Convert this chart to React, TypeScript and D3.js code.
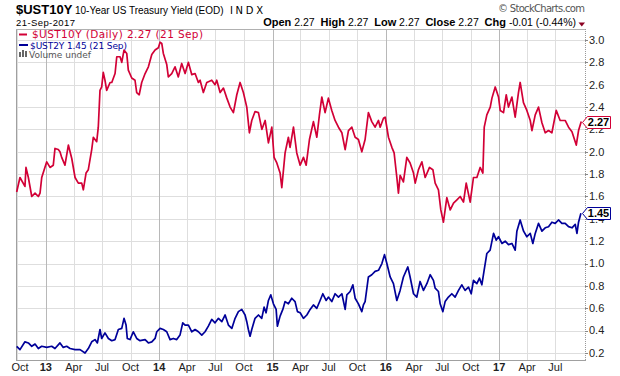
import React from 'react';
import * as d3 from 'd3';

// $UST10Y daily close (decimal-year time, yield %)
const tenYearTimes = [
  2012.743, 2012.772, 2012.816, 2012.825, 2012.846, 2012.876, 2012.905, 2012.934, 2012.949, 2012.964,
  2013.008, 2013.037, 2013.066, 2013.081, 2013.110, 2013.125, 2013.140, 2013.169, 2013.199, 2013.229,
  2013.258, 2013.287, 2013.317, 2013.331, 2013.355, 2013.375, 2013.405, 2013.419, 2013.449, 2013.463,
  2013.478, 2013.493, 2013.507, 2013.522, 2013.537, 2013.567, 2013.582, 2013.611, 2013.626, 2013.655,
  2013.670, 2013.690, 2013.714, 2013.728, 2013.758, 2013.787, 2013.802, 2013.824, 2013.846, 2013.876,
  2013.905, 2013.935, 2013.964, 2013.993, 2014.008, 2014.023, 2014.037, 2014.067, 2014.081, 2014.111,
  2014.140, 2014.169, 2014.199, 2014.229, 2014.258, 2014.288, 2014.317, 2014.346, 2014.361, 2014.390,
  2014.420, 2014.464, 2014.493, 2014.508, 2014.538, 2014.567, 2014.597, 2014.626, 2014.655, 2014.685,
  2014.714, 2014.743, 2014.773, 2014.796, 2014.817, 2014.846, 2014.876, 2014.906, 2014.935, 2014.964,
  2014.994, 2015.014, 2015.038, 2015.067, 2015.082, 2015.111, 2015.140, 2015.155, 2015.185, 2015.214,
  2015.244, 2015.273, 2015.297, 2015.326, 2015.361, 2015.391, 2015.414, 2015.435, 2015.464, 2015.493,
  2015.523, 2015.552, 2015.582, 2015.612, 2015.641, 2015.670, 2015.700, 2015.729, 2015.758, 2015.788,
  2015.817, 2015.846, 2015.876, 2015.905, 2015.935, 2015.950, 2015.979, 2015.994, 2016.023, 2016.053,
  2016.073, 2016.097, 2016.111, 2016.126, 2016.155, 2016.185, 2016.214, 2016.244, 2016.259, 2016.288,
  2016.318, 2016.347, 2016.385, 2016.415, 2016.435, 2016.464, 2016.485, 2016.508, 2016.538, 2016.568,
  2016.597, 2016.627, 2016.656, 2016.685, 2016.709, 2016.744, 2016.773, 2016.803, 2016.832, 2016.856,
  2016.868, 2016.891, 2016.921, 2016.936, 2016.965, 2016.994, 2017.009, 2017.038, 2017.062, 2017.082,
  2017.112, 2017.141, 2017.170, 2017.185, 2017.214, 2017.244, 2017.274, 2017.289, 2017.318, 2017.347,
  2017.377, 2017.406, 2017.435, 2017.465, 2017.503, 2017.538, 2017.582, 2017.612, 2017.642, 2017.680,
  2017.700, 2017.724,
];
const tenYearValues = [
  1.64, 1.77, 1.69, 1.86, 1.77, 1.60, 1.63, 1.60, 1.63, 1.77,
  1.91, 1.86, 1.88, 2.03, 2.02, 2.00, 1.95, 1.88, 2.06, 1.94,
  1.77, 1.72, 1.72, 1.66, 1.81, 1.84, 2.02, 2.13, 2.09, 2.22,
  2.55, 2.58, 2.71, 2.64, 2.55, 2.62, 2.62, 2.70, 2.85, 2.85,
  2.80, 2.91, 2.88, 2.73, 2.66, 2.64, 2.53, 2.51, 2.62, 2.70,
  2.76, 2.87, 2.91, 2.93, 2.98, 2.97, 2.88, 2.78, 2.67, 2.70,
  2.76, 2.67, 2.79, 2.70, 2.80, 2.69, 2.70, 2.62, 2.64, 2.53,
  2.62, 2.64, 2.60, 2.64, 2.53, 2.57, 2.48, 2.40, 2.35, 2.51,
  2.62, 2.53, 2.40, 2.17, 2.28, 2.36, 2.35, 2.20, 2.28, 2.08,
  2.22, 1.95, 1.90, 1.81, 1.68, 1.99, 2.13, 2.04, 2.22, 1.99,
  1.88, 1.95, 1.88, 2.11, 2.27, 2.13, 2.33, 2.49, 2.35, 2.48,
  2.37, 2.28, 2.22, 2.17, 2.02, 2.19, 2.22, 2.13, 2.11, 2.00,
  2.11, 2.35, 2.27, 2.22, 2.28, 2.22, 2.30, 2.31, 2.13, 2.04,
  1.99, 1.77, 1.63, 1.79, 1.73, 1.95, 1.90, 1.81, 1.72, 1.84,
  1.91, 1.77, 1.86, 1.84, 1.72, 1.66, 1.48, 1.37, 1.59, 1.48,
  1.54, 1.57, 1.60, 1.55, 1.72, 1.55, 1.77, 1.77, 1.86, 1.81,
  2.22, 2.33, 2.40, 2.48, 2.58, 2.49, 2.37, 2.35, 2.51, 2.40,
  2.49, 2.31, 2.53, 2.62, 2.44, 2.37, 2.28, 2.19, 2.33, 2.40,
  2.26, 2.17, 2.19, 2.17, 2.37, 2.28, 2.28, 2.22, 2.18, 2.06,
  2.19, 2.27,
];

// $UST2Y daily close
const twoYearTimes = [
  2012.743, 2012.772, 2012.816, 2012.846, 2012.876, 2012.905, 2012.934, 2012.964, 2013.008, 2013.052,
  2013.081, 2013.125, 2013.154, 2013.184, 2013.214, 2013.258, 2013.302, 2013.346, 2013.375, 2013.405,
  2013.434, 2013.455, 2013.478, 2013.493, 2013.522, 2013.552, 2013.582, 2013.611, 2013.640, 2013.670,
  2013.690, 2013.708, 2013.719, 2013.743, 2013.772, 2013.802, 2013.831, 2013.876, 2013.905, 2013.935,
  2013.964, 2013.979, 2014.008, 2014.037, 2014.067, 2014.096, 2014.125, 2014.155, 2014.184, 2014.208,
  2014.229, 2014.258, 2014.288, 2014.317, 2014.346, 2014.376, 2014.405, 2014.434, 2014.464, 2014.493,
  2014.523, 2014.553, 2014.582, 2014.611, 2014.641, 2014.670, 2014.699, 2014.729, 2014.758, 2014.773,
  2014.787, 2014.802, 2014.817, 2014.846, 2014.876, 2014.905, 2014.926, 2014.943, 2014.964, 2014.985,
  2015.008, 2015.032, 2015.043, 2015.067, 2015.091, 2015.111, 2015.140, 2015.170, 2015.199, 2015.220,
  2015.244, 2015.273, 2015.303, 2015.332, 2015.361, 2015.391, 2015.420, 2015.444, 2015.473, 2015.493,
  2015.523, 2015.552, 2015.582, 2015.612, 2015.641, 2015.656, 2015.685, 2015.709, 2015.729, 2015.758,
  2015.788, 2015.802, 2015.817, 2015.846, 2015.876, 2015.905, 2015.935, 2015.965, 2015.988, 2016.009,
  2016.038, 2016.067, 2016.097, 2016.126, 2016.155, 2016.194, 2016.214, 2016.244, 2016.273, 2016.302,
  2016.332, 2016.362, 2016.391, 2016.420, 2016.435, 2016.464, 2016.479, 2016.503, 2016.523, 2016.552,
  2016.582, 2016.611, 2016.641, 2016.670, 2016.699, 2016.729, 2016.753, 2016.773, 2016.803, 2016.826,
  2016.847, 2016.867, 2016.891, 2016.920, 2016.950, 2016.974, 2016.994, 2017.024, 2017.053, 2017.082,
  2017.112, 2017.141, 2017.156, 2017.185, 2017.215, 2017.244, 2017.274, 2017.297, 2017.318, 2017.347,
  2017.377, 2017.406, 2017.435, 2017.465, 2017.494, 2017.523, 2017.553, 2017.582, 2017.612, 2017.642,
  2017.671, 2017.686, 2017.700, 2017.721,
];
const twoYearValues = [
  0.26, 0.23, 0.30, 0.29, 0.26, 0.28, 0.24, 0.26, 0.25, 0.26,
  0.24, 0.29, 0.25, 0.26, 0.24, 0.23, 0.23, 0.20, 0.24, 0.30,
  0.32, 0.29, 0.41, 0.33, 0.38, 0.33, 0.31, 0.32, 0.41, 0.42,
  0.51, 0.45, 0.33, 0.32, 0.39, 0.33, 0.31, 0.32, 0.29, 0.30,
  0.33, 0.39, 0.42, 0.41, 0.39, 0.32, 0.33, 0.32, 0.36, 0.47,
  0.45, 0.45, 0.39, 0.41, 0.39, 0.36, 0.39, 0.44, 0.50, 0.47,
  0.51, 0.48, 0.54, 0.45, 0.42, 0.51, 0.57, 0.59, 0.54, 0.48,
  0.41, 0.35, 0.41, 0.51, 0.54, 0.51, 0.61, 0.56, 0.67, 0.72,
  0.64, 0.59, 0.44, 0.53, 0.59, 0.66, 0.64, 0.69, 0.66, 0.57,
  0.56, 0.51, 0.54, 0.59, 0.63, 0.60, 0.67, 0.73, 0.67, 0.70,
  0.66, 0.73, 0.70, 0.73, 0.59, 0.72, 0.75, 0.81, 0.69, 0.64,
  0.57, 0.63, 0.66, 0.88, 0.90, 0.93, 0.94, 1.00, 1.08, 1.00,
  0.88, 0.82, 0.67, 0.76, 0.88, 0.97, 0.88, 0.73, 0.70, 0.84,
  0.76, 0.82, 0.90, 0.85, 0.78, 0.75, 0.64, 0.57, 0.66, 0.70,
  0.73, 0.70, 0.76, 0.81, 0.76, 0.79, 0.73, 0.85, 0.82, 0.87,
  0.81, 0.94, 1.09, 1.12, 1.27, 1.21, 1.24, 1.18, 1.20, 1.17,
  1.18, 1.12, 1.29, 1.39, 1.29, 1.24, 1.27, 1.18, 1.27, 1.36,
  1.29, 1.32, 1.33, 1.37, 1.36, 1.39, 1.36, 1.36, 1.33, 1.32,
  1.35, 1.27, 1.37, 1.45,
];

const yTicks = [0.2, 0.4, 0.6, 0.8, 1.0, 1.2, 1.4, 1.6, 1.8, 2.0, 2.2, 2.4, 2.6, 2.8, 3.0];
const xTickLabels = ['Oct', '13', 'Apr', 'Jul', 'Oct', '14', 'Apr', 'Jul', 'Oct', '15', 'Apr', 'Jul', 'Oct', '16', 'Apr', 'Jul', 'Oct', '17', 'Apr', 'Jul'];

const RED = '#d20036';
const BLUE = '#000099';
const FONT = '"Liberation Sans", Arial, sans-serif';
const VFONT = '"DejaVu Sans", Verdana, sans-serif';

function toYear(d: Date): number {
  const y0 = d3.timeYear(d);
  const y1 = d3.timeYear.offset(y0, 1);
  return d.getFullYear() + d3.timeDay.count(y0, d) / d3.timeDay.count(y0, y1);
}

export default function App() {
  const left = 16, right = 585, top = 29, bottom = 360;
  const x = d3.scaleLinear().domain([2012.737, 2017.757]).range([left, right]);
  const y = d3.scaleLinear().domain([0.2, 3.0]).range([353, 40]);

  const quarters = d3.timeMonth.every(3)!.range(new Date(2012, 9, 1), new Date(2017, 7, 1));

  const line = d3.line<[number, number]>().x(d => x(d[0])).y(d => y(d[1]));
  const tenPath = line(tenYearTimes.map((t, i) => [t, tenYearValues[i]] as [number, number]))!;
  const twoPath = line(twoYearTimes.map((t, i) => [t, twoYearValues[i]] as [number, number]))!;

  const lastTen = tenYearValues[tenYearValues.length - 1];
  const lastTwo = twoYearValues[twoYearValues.length - 1];

  const tag = (cy: number) =>
    `M582.5,${cy} L587.5,${cy - 6} L610.5,${cy - 6} L610.5,${cy + 6} L587.5,${cy + 6} Z`;

  return (
    <svg width={620} height={376} style={{ position: 'absolute', left: 0, top: 0, background: '#fff' }}
      fontFamily={FONT}>
      <rect x={0} y={0} width={620} height={376} fill="#fff" />

      {/* header */}
      <text x={16} y={13.5} fontSize={13} fontWeight="bold" fill="#000">$UST10Y</text>
      <text x={75} y={13.5} fontSize={10} fill="#000">10-Year US Treasury Yield (EOD)</text>
      <text x={230} y={13.5} fontSize={10} fill="#000" fontFamily={VFONT} textLength={33} lengthAdjust="spacing">INDX</text>
      <text x={16} y={26} fontSize={9.5} fill="#000" textLength={59}>21-Sep-2017</text>
      <text x={585} y={12} fontSize={10} fill="#555" textAnchor="end" fontFamily={VFONT} textLength={87}>© StockCharts.com</text>
      <text x={576} y={26} textAnchor="end" fill="#000" xmlSpace="preserve" style={{ whiteSpace: 'pre' }}>
        <tspan fontWeight="bold" fontSize={11}>Open</tspan>
        <tspan fontSize={10.5}> 2.27  </tspan>
        <tspan fontWeight="bold" fontSize={11}>High</tspan>
        <tspan fontSize={10.5}> 2.27  </tspan>
        <tspan fontWeight="bold" fontSize={11}>Low</tspan>
        <tspan fontSize={10.5}> 2.27  </tspan>
        <tspan fontWeight="bold" fontSize={11}>Close</tspan>
        <tspan fontSize={10.5}> 2.27  </tspan>
        <tspan fontWeight="bold" fontSize={11}>Chg</tspan>
        <tspan fontSize={10.5}> -0.01 (-0.44%)</tspan>
      </text>
      <path d="M578.5,22.5 L585,22.5 L581.75,26.5 Z" fill="#8b0022" />

      {/* horizontal grid */}
      {yTicks.map(v => {
        const yy = Math.round(y(v)) + 0.5;
        return <line key={'h' + v} x1={left} x2={right} y1={yy} y2={yy} stroke="#dedede" strokeWidth={1} />;
      })}
      {/* vertical grid */}
      {quarters.map((d, i) => {
        const xx = Math.round(x(toYear(d))) + 0.5;
        const isYear = d.getMonth() === 0;
        return <line key={'v' + i} x1={xx} x2={xx} y1={top} y2={bottom} stroke={isYear ? '#b8b8b8' : '#dedede'} strokeWidth={1} />;
      })}

      {/* frame */}
      <line x1={left + 0.5} x2={left + 0.5} y1={top} y2={bottom + 0.5} stroke="#a0a0a0" />
      <line x1={left} x2={right + 1} y1={top + 0.5} y2={top + 0.5} stroke="#b0b0b0" />
      <line x1={left} x2={right + 1} y1={bottom + 0.5} y2={bottom + 0.5} stroke="#a0a0a0" />
      <line x1={right + 0.5} x2={right + 0.5} y1={top} y2={bottom + 1} stroke="#999" strokeDasharray="1 1" />

      {/* series */}
      <path d={tenPath} fill="none" stroke={RED} strokeWidth={1.7} strokeLinejoin="round" />
      <path d={twoPath} fill="none" stroke={BLUE} strokeWidth={1.7} strokeLinejoin="round" />

      {/* y axis labels */}
      {yTicks.map(v => {
        const yy = Math.round(y(v)) + 0.5;
        return (
          <g key={'yl' + v}>
            <line x1={right} x2={right + 3} y1={yy} y2={yy} stroke="#888" />
            <text x={589} y={y(v)} dy="0.35em" fontSize={11} fill="#222">{v.toFixed(1)}</text>
          </g>
        );
      })}

      {/* x axis labels */}
      {quarters.map((d, i) => {
        const isYear = d.getMonth() === 0;
        return (
          <text key={'xl' + i} x={Math.max(x(toYear(d)), 20)} y={371} fontSize={11} textAnchor="middle"
            fontWeight={isYear ? 'bold' : 'normal'} fill="#222">{xTickLabels[i]}</text>
        );
      })}

      {/* price tags (cover the axis labels beneath them, as in the source) */}
      <path d={tag(Math.round(y(lastTen)) + 0.5)} fill="#fff" stroke={RED} strokeWidth={1} />
      <text x={598.5} y={y(lastTen)} dy="0.36em" fontSize={11} fontWeight="bold" textAnchor="middle" fill="#000">{lastTen.toFixed(2)}</text>
      <path d={tag(Math.round(y(lastTwo)) + 0.5)} fill="#fff" stroke={BLUE} strokeWidth={1} />
      <text x={598.5} y={y(lastTwo)} dy="0.36em" fontSize={11} fontWeight="bold" textAnchor="middle" fill="#000">{lastTwo.toFixed(2)}</text>

      {/* legend */}
      <line x1={19} x2={27} y1={34.5} y2={34.5} stroke={RED} strokeWidth={2} />
      <text x={32} y={38} fontSize={10.5} fontFamily={VFONT} fill={RED} textLength={171}>$UST10Y (Daily) 2.27 (21 Sep)</text>
      <line x1={19} x2={28} y1={45} y2={45} stroke={BLUE} strokeWidth={2} />
      <text x={30} y={48.5} fontSize={9} fontFamily={VFONT} fill={BLUE} textLength={97}>$UST2Y 1.45 (21 Sep)</text>
      <rect x={19} y={52} width={2} height={5} fill="#666" />
      <rect x={22} y={50} width={2} height={7} fill="#666" />
      <rect x={25} y={51} width={2} height={6} fill="#666" />
      <text x={29} y={58} fontSize={9} fontFamily={VFONT} fill="#555" textLength={62}>Volume undef</text>
    </svg>
  );
}
